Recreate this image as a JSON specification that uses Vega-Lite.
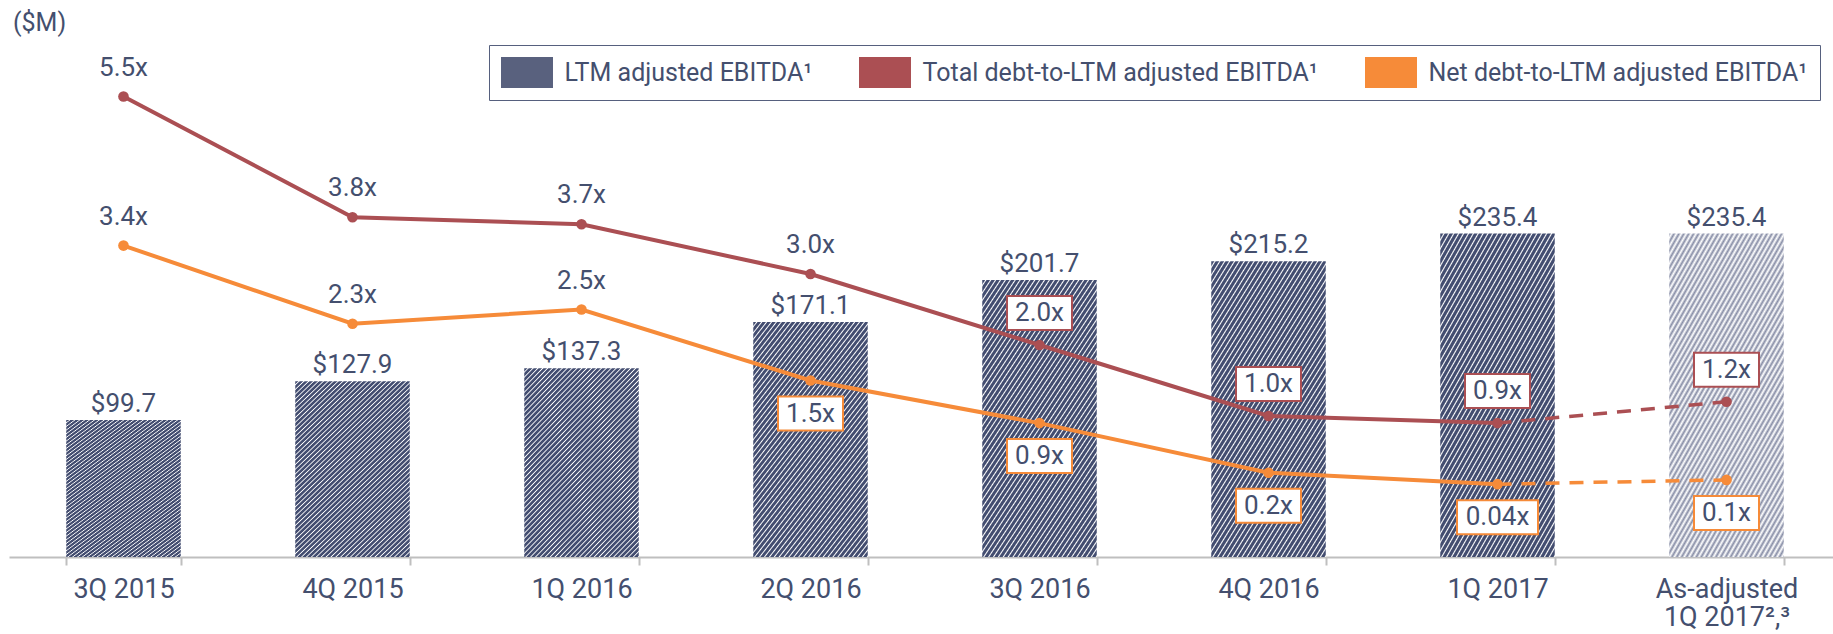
{
  "$schema": "https://vega.github.io/schema/vega-lite/v6.json",
  "width": 1832,
  "height": 517,
  "autosize": {"type": "none"},
  "padding": {"left": 9, "top": 40, "right": 0, "bottom": 77},
  "title": {"text": "($M)", "anchor": "start", "frame": "group", "offset": 9, "dy": 25, "baseline": "alphabetic", "fontSize": 25, "fontWeight": "normal", "color": "#444F6E", "font": "Roboto", "dx": 4},
  "datasets": {
    "bars": [
      {"q": "3Q 2015", "idx": 1, "ebitda": 99.7},
      {"q": "4Q 2015", "idx": 2, "ebitda": 127.9},
      {"q": "1Q 2016", "idx": 3, "ebitda": 137.3},
      {"q": "2Q 2016", "idx": 4, "ebitda": 171.1},
      {"q": "3Q 2016", "idx": 5, "ebitda": 201.7},
      {"q": "4Q 2016", "idx": 6, "ebitda": 215.2},
      {"q": "1Q 2017", "idx": 7, "ebitda": 235.4},
      {"q": "As-adjusted 1Q 2017²,³", "idx": 8, "ebitda": 235.4}
    ],
    "lines": [
      {"q": "3Q 2015", "idx": 1, "series": "Total debt-to-LTM adjusted EBITDA¹", "v": 5.5, "label": "5.5x"},
      {"q": "4Q 2015", "idx": 2, "series": "Total debt-to-LTM adjusted EBITDA¹", "v": 3.8, "label": "3.8x"},
      {"q": "1Q 2016", "idx": 3, "series": "Total debt-to-LTM adjusted EBITDA¹", "v": 3.7, "label": "3.7x"},
      {"q": "2Q 2016", "idx": 4, "series": "Total debt-to-LTM adjusted EBITDA¹", "v": 3.0, "label": "3.0x"},
      {"q": "3Q 2016", "idx": 5, "series": "Total debt-to-LTM adjusted EBITDA¹", "v": 2.0, "label": "2.0x"},
      {"q": "4Q 2016", "idx": 6, "series": "Total debt-to-LTM adjusted EBITDA¹", "v": 1.0, "label": "1.0x"},
      {"q": "1Q 2017", "idx": 7, "series": "Total debt-to-LTM adjusted EBITDA¹", "v": 0.9, "label": "0.9x"},
      {"q": "As-adjusted 1Q 2017²,³", "idx": 8, "series": "Total debt-to-LTM adjusted EBITDA¹", "v": 1.2, "label": "1.2x"},
      {"q": "3Q 2015", "idx": 1, "series": "Net debt-to-LTM adjusted EBITDA¹", "v": 3.4, "label": "3.4x"},
      {"q": "4Q 2015", "idx": 2, "series": "Net debt-to-LTM adjusted EBITDA¹", "v": 2.3, "label": "2.3x"},
      {"q": "1Q 2016", "idx": 3, "series": "Net debt-to-LTM adjusted EBITDA¹", "v": 2.5, "label": "2.5x"},
      {"q": "2Q 2016", "idx": 4, "series": "Net debt-to-LTM adjusted EBITDA¹", "v": 1.5, "label": "1.5x"},
      {"q": "3Q 2016", "idx": 5, "series": "Net debt-to-LTM adjusted EBITDA¹", "v": 0.9, "label": "0.9x"},
      {"q": "4Q 2016", "idx": 6, "series": "Net debt-to-LTM adjusted EBITDA¹", "v": 0.2, "label": "0.2x"},
      {"q": "1Q 2017", "idx": 7, "series": "Net debt-to-LTM adjusted EBITDA¹", "v": 0.04, "label": "0.04x"},
      {"q": "As-adjusted 1Q 2017²,³", "idx": 8, "series": "Net debt-to-LTM adjusted EBITDA¹", "v": 0.1, "label": "0.1x"}
    ]
  },
  "resolve": {"scale": {"y": "independent"}},
  "layer": [
    {
      "data": {"name": "bars"},
      "encoding": {
        "x": {"field": "q", "type": "nominal",
          "scale": {"domain": ["3Q 2015", "4Q 2015", "1Q 2016", "2Q 2016", "3Q 2016", "4Q 2016", "1Q 2017", "As-adjusted 1Q 2017²,³"], "paddingInner": 0.5, "paddingOuter": 0.25},
          "axis": {"title": null, "labelAngle": 0, "labelFont": "Roboto", "labelFontSize": 27, "labelColor": "#444F6E", "labelPadding": 11, "labelLineHeight": 28, "labelBaseline": "top", "labelLimit": 400,
            "labelExpr": "datum.value === 'As-adjusted 1Q 2017²,³' ? ['As-adjusted', '1Q 2017²,³'] : datum.label",
            "tickBand": "extent", "tickSize": 8, "tickColor": "#BFBFBF", "tickWidth": 2, "domainColor": "#BFBFBF", "domainWidth": 2, "grid": false}},
        "y": {"field": "ebitda", "type": "quantitative", "scale": {"domain": [0, 376.3]}, "axis": null}
      },
      "layer": [
        {
          "transform": [{"filter": "datum.idx <= 7"}],
          "mark": {"type": "bar", "fill": {"gradient": "linear", "x1": 0, "y1": 0, "x2": 1, "y2": 1.6, "stops": [
            {"offset": 0, "color": "#434d70"}, {"offset": 0.006, "color": "#434d70"}, {"offset": 0.009, "color": "#fff"},
            {"offset": 0.012, "color": "#434d70"}, {"offset": 0.018, "color": "#434d70"}, {"offset": 0.021, "color": "#fff"},
            {"offset": 0.024, "color": "#434d70"}, {"offset": 0.03, "color": "#434d70"}, {"offset": 0.033, "color": "#fff"},
            {"offset": 0.036, "color": "#434d70"}, {"offset": 0.042, "color": "#434d70"}, {"offset": 0.045, "color": "#fff"},
            {"offset": 0.048, "color": "#434d70"}, {"offset": 0.054, "color": "#434d70"}, {"offset": 0.057, "color": "#fff"},
            {"offset": 0.06, "color": "#434d70"}, {"offset": 0.066, "color": "#434d70"}, {"offset": 0.069, "color": "#fff"},
            {"offset": 0.072, "color": "#434d70"}, {"offset": 0.078, "color": "#434d70"}, {"offset": 0.081, "color": "#fff"},
            {"offset": 0.084, "color": "#434d70"}, {"offset": 0.09, "color": "#434d70"}, {"offset": 0.093, "color": "#fff"},
            {"offset": 0.096, "color": "#434d70"}, {"offset": 0.102, "color": "#434d70"}, {"offset": 0.105, "color": "#fff"},
            {"offset": 0.108, "color": "#434d70"}, {"offset": 0.114, "color": "#434d70"}, {"offset": 0.117, "color": "#fff"},
            {"offset": 0.12, "color": "#434d70"}, {"offset": 0.126, "color": "#434d70"}, {"offset": 0.129, "color": "#fff"},
            {"offset": 0.132, "color": "#434d70"}, {"offset": 0.138, "color": "#434d70"}, {"offset": 0.141, "color": "#fff"},
            {"offset": 0.144, "color": "#434d70"}, {"offset": 0.15, "color": "#434d70"}, {"offset": 0.153, "color": "#fff"},
            {"offset": 0.156, "color": "#434d70"}, {"offset": 0.162, "color": "#434d70"}, {"offset": 0.165, "color": "#fff"},
            {"offset": 0.168, "color": "#434d70"}, {"offset": 0.174, "color": "#434d70"}, {"offset": 0.177, "color": "#fff"},
            {"offset": 0.18, "color": "#434d70"}, {"offset": 0.186, "color": "#434d70"}, {"offset": 0.189, "color": "#fff"},
            {"offset": 0.192, "color": "#434d70"}, {"offset": 0.198, "color": "#434d70"}, {"offset": 0.201, "color": "#fff"},
            {"offset": 0.204, "color": "#434d70"}, {"offset": 0.21, "color": "#434d70"}, {"offset": 0.213, "color": "#fff"},
            {"offset": 0.216, "color": "#434d70"}, {"offset": 0.222, "color": "#434d70"}, {"offset": 0.225, "color": "#fff"},
            {"offset": 0.228, "color": "#434d70"}, {"offset": 0.234, "color": "#434d70"}, {"offset": 0.237, "color": "#fff"},
            {"offset": 0.24, "color": "#434d70"}, {"offset": 0.246, "color": "#434d70"}, {"offset": 0.249, "color": "#fff"},
            {"offset": 0.252, "color": "#434d70"}, {"offset": 0.258, "color": "#434d70"}, {"offset": 0.261, "color": "#fff"},
            {"offset": 0.264, "color": "#434d70"}, {"offset": 0.27, "color": "#434d70"}, {"offset": 0.273, "color": "#fff"},
            {"offset": 0.276, "color": "#434d70"}, {"offset": 0.282, "color": "#434d70"}, {"offset": 0.285, "color": "#fff"},
            {"offset": 0.288, "color": "#434d70"}, {"offset": 0.294, "color": "#434d70"}, {"offset": 0.297, "color": "#fff"},
            {"offset": 0.3, "color": "#434d70"}, {"offset": 0.306, "color": "#434d70"}, {"offset": 0.309, "color": "#fff"},
            {"offset": 0.312, "color": "#434d70"}, {"offset": 0.318, "color": "#434d70"}, {"offset": 0.321, "color": "#fff"},
            {"offset": 0.324, "color": "#434d70"}, {"offset": 0.33, "color": "#434d70"}, {"offset": 0.333, "color": "#fff"},
            {"offset": 0.336, "color": "#434d70"}, {"offset": 0.342, "color": "#434d70"}, {"offset": 0.345, "color": "#fff"},
            {"offset": 0.348, "color": "#434d70"}, {"offset": 0.354, "color": "#434d70"}, {"offset": 0.357, "color": "#fff"},
            {"offset": 0.36, "color": "#434d70"}, {"offset": 0.366, "color": "#434d70"}, {"offset": 0.369, "color": "#fff"},
            {"offset": 0.372, "color": "#434d70"}, {"offset": 0.378, "color": "#434d70"}, {"offset": 0.381, "color": "#fff"},
            {"offset": 0.384, "color": "#434d70"}, {"offset": 0.39, "color": "#434d70"}, {"offset": 0.393, "color": "#fff"},
            {"offset": 0.396, "color": "#434d70"}, {"offset": 0.402, "color": "#434d70"}, {"offset": 0.405, "color": "#fff"},
            {"offset": 0.408, "color": "#434d70"}, {"offset": 0.414, "color": "#434d70"}, {"offset": 0.417, "color": "#fff"},
            {"offset": 0.42, "color": "#434d70"}, {"offset": 0.426, "color": "#434d70"}, {"offset": 0.429, "color": "#fff"},
            {"offset": 0.432, "color": "#434d70"}, {"offset": 0.438, "color": "#434d70"}, {"offset": 0.441, "color": "#fff"},
            {"offset": 0.444, "color": "#434d70"}, {"offset": 0.45, "color": "#434d70"}, {"offset": 0.453, "color": "#fff"},
            {"offset": 0.456, "color": "#434d70"}, {"offset": 0.462, "color": "#434d70"}, {"offset": 0.465, "color": "#fff"},
            {"offset": 0.468, "color": "#434d70"}, {"offset": 0.474, "color": "#434d70"}, {"offset": 0.477, "color": "#fff"},
            {"offset": 0.48, "color": "#434d70"}, {"offset": 0.486, "color": "#434d70"}, {"offset": 0.489, "color": "#fff"},
            {"offset": 0.492, "color": "#434d70"}, {"offset": 0.498, "color": "#434d70"}, {"offset": 0.501, "color": "#fff"},
            {"offset": 0.504, "color": "#434d70"}, {"offset": 0.51, "color": "#434d70"}, {"offset": 0.513, "color": "#fff"},
            {"offset": 0.516, "color": "#434d70"}, {"offset": 0.522, "color": "#434d70"}, {"offset": 0.525, "color": "#fff"},
            {"offset": 0.528, "color": "#434d70"}, {"offset": 0.534, "color": "#434d70"}, {"offset": 0.537, "color": "#fff"},
            {"offset": 0.54, "color": "#434d70"}, {"offset": 0.546, "color": "#434d70"}, {"offset": 0.549, "color": "#fff"},
            {"offset": 0.552, "color": "#434d70"}, {"offset": 0.558, "color": "#434d70"}, {"offset": 0.561, "color": "#fff"},
            {"offset": 0.564, "color": "#434d70"}, {"offset": 0.57, "color": "#434d70"}, {"offset": 0.573, "color": "#fff"},
            {"offset": 0.576, "color": "#434d70"}, {"offset": 0.582, "color": "#434d70"}, {"offset": 0.585, "color": "#fff"},
            {"offset": 0.588, "color": "#434d70"}, {"offset": 0.594, "color": "#434d70"}, {"offset": 0.597, "color": "#fff"},
            {"offset": 0.6, "color": "#434d70"}, {"offset": 0.606, "color": "#434d70"}, {"offset": 0.609, "color": "#fff"},
            {"offset": 0.612, "color": "#434d70"}, {"offset": 0.618, "color": "#434d70"}, {"offset": 0.621, "color": "#fff"},
            {"offset": 0.624, "color": "#434d70"}, {"offset": 0.63, "color": "#434d70"}, {"offset": 0.633, "color": "#fff"},
            {"offset": 0.636, "color": "#434d70"}, {"offset": 0.642, "color": "#434d70"}, {"offset": 0.645, "color": "#fff"},
            {"offset": 0.648, "color": "#434d70"}, {"offset": 0.654, "color": "#434d70"}, {"offset": 0.657, "color": "#fff"},
            {"offset": 0.66, "color": "#434d70"}, {"offset": 0.666, "color": "#434d70"}, {"offset": 0.669, "color": "#fff"},
            {"offset": 0.672, "color": "#434d70"}, {"offset": 0.678, "color": "#434d70"}, {"offset": 0.681, "color": "#fff"},
            {"offset": 0.684, "color": "#434d70"}, {"offset": 0.69, "color": "#434d70"}, {"offset": 0.693, "color": "#fff"},
            {"offset": 0.696, "color": "#434d70"}, {"offset": 0.702, "color": "#434d70"}, {"offset": 0.705, "color": "#fff"},
            {"offset": 0.708, "color": "#434d70"}, {"offset": 0.714, "color": "#434d70"}, {"offset": 0.717, "color": "#fff"},
            {"offset": 0.72, "color": "#434d70"}, {"offset": 0.726, "color": "#434d70"}, {"offset": 0.729, "color": "#fff"},
            {"offset": 0.732, "color": "#434d70"}, {"offset": 0.738, "color": "#434d70"}, {"offset": 0.741, "color": "#fff"},
            {"offset": 0.744, "color": "#434d70"}
          ]}}
        },
        {
          "transform": [{"filter": "datum.idx === 8"}],
          "mark": {"type": "bar", "fill": {"gradient": "linear", "x1": 0, "y1": 0, "x2": 1, "y2": 1.6, "stops": [
            {"offset": 0, "color": "#878da6"}, {"offset": 0.006, "color": "#fff"}, {"offset": 0.012, "color": "#878da6"}, {"offset": 0.018, "color": "#fff"},
            {"offset": 0.024, "color": "#878da6"}, {"offset": 0.03, "color": "#fff"}, {"offset": 0.036, "color": "#878da6"}, {"offset": 0.042, "color": "#fff"},
            {"offset": 0.048, "color": "#878da6"}, {"offset": 0.054, "color": "#fff"}, {"offset": 0.06, "color": "#878da6"}, {"offset": 0.066, "color": "#fff"},
            {"offset": 0.072, "color": "#878da6"}, {"offset": 0.078, "color": "#fff"}, {"offset": 0.084, "color": "#878da6"}, {"offset": 0.09, "color": "#fff"},
            {"offset": 0.096, "color": "#878da6"}, {"offset": 0.102, "color": "#fff"}, {"offset": 0.108, "color": "#878da6"}, {"offset": 0.114, "color": "#fff"},
            {"offset": 0.12, "color": "#878da6"}, {"offset": 0.126, "color": "#fff"}, {"offset": 0.132, "color": "#878da6"}, {"offset": 0.138, "color": "#fff"},
            {"offset": 0.144, "color": "#878da6"}, {"offset": 0.15, "color": "#fff"}, {"offset": 0.156, "color": "#878da6"}, {"offset": 0.162, "color": "#fff"},
            {"offset": 0.168, "color": "#878da6"}, {"offset": 0.174, "color": "#fff"}, {"offset": 0.18, "color": "#878da6"}, {"offset": 0.186, "color": "#fff"},
            {"offset": 0.192, "color": "#878da6"}, {"offset": 0.198, "color": "#fff"}, {"offset": 0.204, "color": "#878da6"}, {"offset": 0.21, "color": "#fff"},
            {"offset": 0.216, "color": "#878da6"}, {"offset": 0.222, "color": "#fff"}, {"offset": 0.228, "color": "#878da6"}, {"offset": 0.234, "color": "#fff"},
            {"offset": 0.24, "color": "#878da6"}, {"offset": 0.246, "color": "#fff"}, {"offset": 0.252, "color": "#878da6"}, {"offset": 0.258, "color": "#fff"},
            {"offset": 0.264, "color": "#878da6"}, {"offset": 0.27, "color": "#fff"}, {"offset": 0.276, "color": "#878da6"}, {"offset": 0.282, "color": "#fff"},
            {"offset": 0.288, "color": "#878da6"}, {"offset": 0.294, "color": "#fff"}, {"offset": 0.3, "color": "#878da6"}, {"offset": 0.306, "color": "#fff"},
            {"offset": 0.312, "color": "#878da6"}, {"offset": 0.318, "color": "#fff"}, {"offset": 0.324, "color": "#878da6"}, {"offset": 0.33, "color": "#fff"},
            {"offset": 0.336, "color": "#878da6"}, {"offset": 0.342, "color": "#fff"}, {"offset": 0.348, "color": "#878da6"}, {"offset": 0.354, "color": "#fff"},
            {"offset": 0.36, "color": "#878da6"}, {"offset": 0.366, "color": "#fff"}, {"offset": 0.372, "color": "#878da6"}, {"offset": 0.378, "color": "#fff"},
            {"offset": 0.384, "color": "#878da6"}, {"offset": 0.39, "color": "#fff"}, {"offset": 0.396, "color": "#878da6"}, {"offset": 0.402, "color": "#fff"},
            {"offset": 0.408, "color": "#878da6"}, {"offset": 0.414, "color": "#fff"}, {"offset": 0.42, "color": "#878da6"}, {"offset": 0.426, "color": "#fff"},
            {"offset": 0.432, "color": "#878da6"}, {"offset": 0.438, "color": "#fff"}, {"offset": 0.444, "color": "#878da6"}, {"offset": 0.45, "color": "#fff"},
            {"offset": 0.456, "color": "#878da6"}, {"offset": 0.462, "color": "#fff"}, {"offset": 0.468, "color": "#878da6"}, {"offset": 0.474, "color": "#fff"},
            {"offset": 0.48, "color": "#878da6"}, {"offset": 0.486, "color": "#fff"}, {"offset": 0.492, "color": "#878da6"}, {"offset": 0.498, "color": "#fff"},
            {"offset": 0.504, "color": "#878da6"}, {"offset": 0.51, "color": "#fff"}, {"offset": 0.516, "color": "#878da6"}, {"offset": 0.522, "color": "#fff"},
            {"offset": 0.528, "color": "#878da6"}, {"offset": 0.534, "color": "#fff"}, {"offset": 0.54, "color": "#878da6"}, {"offset": 0.546, "color": "#fff"},
            {"offset": 0.552, "color": "#878da6"}, {"offset": 0.558, "color": "#fff"}, {"offset": 0.564, "color": "#878da6"}, {"offset": 0.57, "color": "#fff"},
            {"offset": 0.576, "color": "#878da6"}, {"offset": 0.582, "color": "#fff"}, {"offset": 0.588, "color": "#878da6"}, {"offset": 0.594, "color": "#fff"},
            {"offset": 0.6, "color": "#878da6"}, {"offset": 0.606, "color": "#fff"}, {"offset": 0.612, "color": "#878da6"}, {"offset": 0.618, "color": "#fff"},
            {"offset": 0.624, "color": "#878da6"}, {"offset": 0.63, "color": "#fff"}, {"offset": 0.636, "color": "#878da6"}, {"offset": 0.642, "color": "#fff"},
            {"offset": 0.648, "color": "#878da6"}, {"offset": 0.654, "color": "#fff"}, {"offset": 0.66, "color": "#878da6"}, {"offset": 0.666, "color": "#fff"},
            {"offset": 0.672, "color": "#878da6"}, {"offset": 0.678, "color": "#fff"}, {"offset": 0.684, "color": "#878da6"}, {"offset": 0.69, "color": "#fff"},
            {"offset": 0.696, "color": "#878da6"}, {"offset": 0.702, "color": "#fff"}, {"offset": 0.708, "color": "#878da6"}, {"offset": 0.714, "color": "#fff"},
            {"offset": 0.72, "color": "#878da6"}, {"offset": 0.726, "color": "#fff"}, {"offset": 0.732, "color": "#878da6"}, {"offset": 0.738, "color": "#fff"},
            {"offset": 0.744, "color": "#878da6"}
          ]}}
        },
        {
          "mark": {"type": "text", "baseline": "alphabetic", "dy": -8, "fontSize": 26, "font": "Roboto", "color": "#444F6E"},
          "encoding": {"text": {"field": "ebitda", "type": "quantitative", "format": "$.1f"}}
        }
      ]
    },
    {
      "data": {"name": "lines"},
      "encoding": {
        "x": {"field": "q", "type": "nominal",
          "scale": {"domain": ["3Q 2015", "4Q 2015", "1Q 2016", "2Q 2016", "3Q 2016", "4Q 2016", "1Q 2017", "As-adjusted 1Q 2017²,³"], "paddingInner": 0.5, "paddingOuter": 0.25},
          "axis": {"title": null, "labelAngle": 0, "labelFont": "Roboto", "labelFontSize": 27, "labelColor": "#444F6E", "labelPadding": 11, "labelLineHeight": 28, "labelBaseline": "top", "labelLimit": 400,
            "labelExpr": "datum.value === 'As-adjusted 1Q 2017²,³' ? ['As-adjusted', '1Q 2017²,³'] : datum.label",
            "tickBand": "extent", "tickSize": 8, "tickColor": "#BFBFBF", "tickWidth": 2, "domainColor": "#BFBFBF", "domainWidth": 2, "grid": false}},
        "y": {"field": "v", "type": "quantitative", "scale": {"domain": [-0.986, 6.296]}, "axis": null}
      },
      "layer": [
        {
          "transform": [{"filter": "datum.idx <= 7"}],
          "mark": {"type": "line", "strokeWidth": 4},
          "encoding": {
            "order": {"field": "idx", "type": "quantitative"},
            "color": {"field": "series", "type": "nominal",
              "scale": {"domain": ["LTM adjusted EBITDA¹", "Total debt-to-LTM adjusted EBITDA¹", "Net debt-to-LTM adjusted EBITDA¹"], "range": ["#59617e", "#AB4F53", "#F68B39"]},
              "legend": {"title": null, "orient": "none", "legendX": 480, "legendY": 5, "direction": "horizontal",
                "symbolType": "M-1.677,-1H1.677V1H-1.677Z", "symbolSize": 961, "symbolOffset": 10.5, "symbolStrokeWidth": 0, "symbolOpacity": 1,
                "labelFont": "Roboto", "labelFontSize": 25, "labelColor": "#444F6E", "labelLimit": 1000, "labelOffset": 22,
                "columnPadding": 46, "padding": 12, "strokeColor": "#56607E"}
            }
          }
        },
        {
          "transform": [{"filter": "datum.idx >= 7"}],
          "mark": {"type": "line", "strokeWidth": 3.5, "strokeDash": [14, 10]},
          "encoding": {
            "order": {"field": "idx", "type": "quantitative"},
            "color": {"field": "series", "type": "nominal",
              "scale": {"domain": ["LTM adjusted EBITDA¹", "Total debt-to-LTM adjusted EBITDA¹", "Net debt-to-LTM adjusted EBITDA¹"], "range": ["#59617e", "#AB4F53", "#F68B39"]}}
          }
        },
        {
          "mark": {"type": "point", "shape": "circle", "filled": true, "size": 113, "opacity": 1},
          "encoding": {
            "color": {"field": "series", "type": "nominal",
              "scale": {"domain": ["LTM adjusted EBITDA¹", "Total debt-to-LTM adjusted EBITDA¹", "Net debt-to-LTM adjusted EBITDA¹"], "range": ["#59617e", "#AB4F53", "#F68B39"]}}
          }
        },
        {
          "transform": [{"filter": "(indexof(datum.series, 'Total') === 0 && datum.idx <= 4) || (indexof(datum.series, 'Net') === 0 && datum.idx <= 3)"}],
          "mark": {"type": "text", "baseline": "middle", "dy": -29, "fontSize": 26, "font": "Roboto", "color": "#444F6E"},
          "encoding": {"text": {"field": "label", "type": "nominal"}}
        },
        {
          "transform": [{"filter": "indexof(datum.series, 'Total') === 0 && datum.idx >= 5"}],
          "mark": {"type": "point", "shape": "M-1,-0.523H1V0.523H-1Z", "size": 4225, "filled": true, "fill": "#FFFFFF", "stroke": "#AB4F53", "strokeWidth": 2, "opacity": 1, "yOffset": -32}
        },
        {
          "transform": [{"filter": "indexof(datum.series, 'Total') === 0 && datum.idx >= 5"}],
          "mark": {"type": "text", "baseline": "middle", "dy": -32, "fontSize": 26, "font": "Roboto", "color": "#444F6E"},
          "encoding": {"text": {"field": "label", "type": "nominal"}}
        },
        {
          "transform": [{"filter": "indexof(datum.series, 'Net') === 0 && datum.idx >= 4"}],
          "mark": {"type": "point", "filled": true, "fill": "#FFFFFF", "stroke": "#F68B39", "strokeWidth": 2, "opacity": 1, "yOffset": 33},
          "encoding": {
            "shape": {"condition": {"test": "datum.label === '0.04x'", "value": "M-1,-0.42H1V0.42H-1Z"}, "value": "M-1,-0.523H1V0.523H-1Z"},
            "size": {"condition": {"test": "datum.label === '0.04x'", "value": 6561}, "value": 4225}
          }
        },
        {
          "transform": [{"filter": "indexof(datum.series, 'Net') === 0 && datum.idx >= 4"}],
          "mark": {"type": "text", "baseline": "middle", "dy": 33, "fontSize": 26, "font": "Roboto", "color": "#444F6E"},
          "encoding": {"text": {"field": "label", "type": "nominal"}}
        }
      ]
    }
  ],
  "config": {"font": "Roboto", "view": {"stroke": null}}
}
